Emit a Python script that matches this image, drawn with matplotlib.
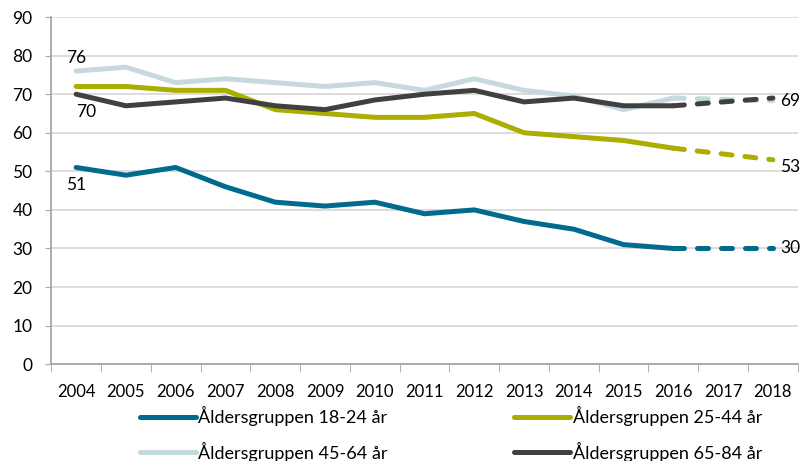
import matplotlib.pyplot as plt

years = [str(y) for y in range(2004, 2019)]

# observed values 2004-2016
g18_24 = [51, 49, 51, 46, 42, 41, 42, 39, 40, 37, 35, 31, 30]
g25_44 = [72, 72, 71, 71, 66, 65, 64, 64, 65, 60, 59, 58, 56]
g45_64 = [76, 77, 73, 74, 73, 72, 73, 71, 74, 71, 69.5, 66, 69]
g65_84 = [70, 67, 68, 69, 67, 66, 68.5, 70, 71, 68, 69, 67, 67]

# 2018 end points (dashed from 2016)
end_18_24 = 30
end_25_44 = 53
end_45_64 = 68.3
end_65_84 = 69

names = ['Åldersgruppen 18-24 år', 'Åldersgruppen 25-44 år',
         'Åldersgruppen 45-64 år', 'Åldersgruppen 65-84 år']
colors = ['#006B8C', '#A9AE00', '#C6D9DF', '#404040']

plt.rcParams['font.family'] = ['Lato', 'DejaVu Sans']

fig = plt.figure(figsize=(8.01, 4.61), dpi=100)
ax = fig.add_axes([0.064, 0.21, 0.932, 0.753])

x = list(range(len(g18_24)))
series = [g18_24, g25_44, g45_64, g65_84]
ends = [end_18_24, end_25_44, end_45_64, end_65_84]
lw = 3.6
for vals, end, c, n in zip(series, ends, colors, names):
    ax.plot(x, vals, color=c, lw=lw, solid_capstyle='round', label=n)
    ax.plot([x[-1], 14], [vals[-1], end], color=c, lw=lw,
            dashes=(2.2, 2.6), dash_capstyle='round')

# data labels
fs = 12.5
ax.text(0, g45_64[0] + 1.2, str(g45_64[0]), ha='center', va='bottom', fontsize=fs)
ax.text(0.2, g65_84[0] - 2.5, str(g65_84[0]), ha='center', va='top', fontsize=fs)
ax.text(0, g18_24[0] - 2.5, str(g18_24[0]), ha='center', va='top', fontsize=fs)
ax.text(14.15, end_65_84 - 0.8, str(end_65_84), ha='left', va='center', fontsize=fs)
ax.text(14.15, end_25_44 - 2.0, str(end_25_44), ha='left', va='center', fontsize=fs)
ax.text(14.15, end_18_24, str(end_18_24), ha='left', va='center', fontsize=fs)

ax.set_xlim(-0.5, 14.5)
ax.set_ylim(0, 90)
ax.set_yticks(range(0, 91, 10))
ax.tick_params(axis='y', labelsize=12.5, length=4.5, color='#A6A6A6', pad=9)
ax.set_xticks(range(15))
ax.set_xticklabels(years)
ax.set_xticks([i - 0.5 for i in range(16)], minor=True)
ax.tick_params(axis='x', which='major', length=0, labelsize=12, pad=14)
ax.tick_params(axis='x', which='minor', length=6, color='#A6A6A6')
ax.grid(axis='y', color='#D9D9D9', lw=1.3)
ax.set_axisbelow(True)
for s in ['top', 'right']:
    ax.spines[s].set_visible(False)
for s in ['left', 'bottom']:
    ax.spines[s].set_color('#A6A6A6')
    ax.spines[s].set_linewidth(1.3)

handles, labels = ax.get_legend_handles_labels()
order = [0, 2, 1, 3]
leg = fig.legend([handles[i] for i in order], [labels[i] for i in order],
                 ncol=2, loc='lower center', bbox_to_anchor=(0.563, -0.037),
                 frameon=False, fontsize=13, handlelength=3.1,
                 handletextpad=0.15, columnspacing=7.0, labelspacing=0.85)

fig.savefig('out.png', dpi=100)
